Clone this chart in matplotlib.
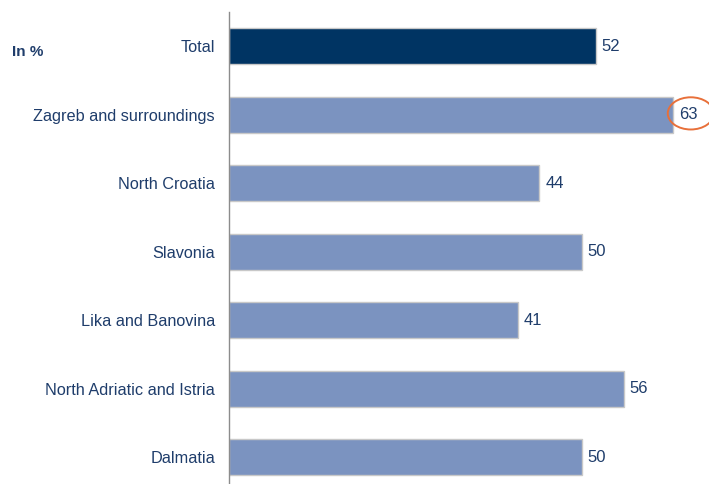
import matplotlib.pyplot as plt
from matplotlib.patches import Ellipse

plt.rcParams['font.family'] = ['Liberation Sans', 'DejaVu Sans']

regions = ['Total', 'Zagreb and surroundings', 'North Croatia', 'Slavonia',
           'Lika and Banovina', 'North Adriatic and Istria', 'Dalmatia']
values = [52, 63, 44, 50, 41, 56, 50]

navy = '#003463'
light = '#7b93c0'
text_col = '#1f3d6b'
px = 7.05  # pixels per percentage point

fig = plt.figure(figsize=(7.09, 4.84), dpi=100)
ax = fig.add_axes([229 / 709, 0, 480 / 709, 472 / 484])

colors = [navy] + [light] * (len(values) - 1)
ypos = list(range(len(values)))
ax.barh(ypos, values, height=0.53, color=colors, edgecolor='#c8c8c8', linewidth=1.0, zorder=2)

for y, v in zip(ypos, values):
    ax.text(v + 6 / px, y, str(v), va='center', ha='left', fontsize=12, color=text_col)

# highlight the top region
ax.add_patch(Ellipse((65.5, 0.98), 46 / px, 0.47, fill=False, edgecolor='#e8703a', linewidth=1.4,
                     clip_on=False, zorder=3))

ax.set_xlim(0, 480 / px)
ax.set_ylim(6.39, -0.5)
ax.set_yticks(ypos)
ax.set_yticklabels(regions, fontsize=11.7, color=text_col)
ax.tick_params(axis='y', length=0, pad=10)
ax.set_xticks([])
for side in ['top', 'right', 'bottom']:
    ax.spines[side].set_visible(False)
ax.spines['left'].set_color('#8c8c8c')
ax.spines['left'].set_linewidth(1.0)

fig.text(12 / 709, 1 - 52 / 484, 'In %', fontsize=11, fontweight='bold', color=text_col,
         va='center', ha='left')

fig.savefig('out.png', dpi=100)
